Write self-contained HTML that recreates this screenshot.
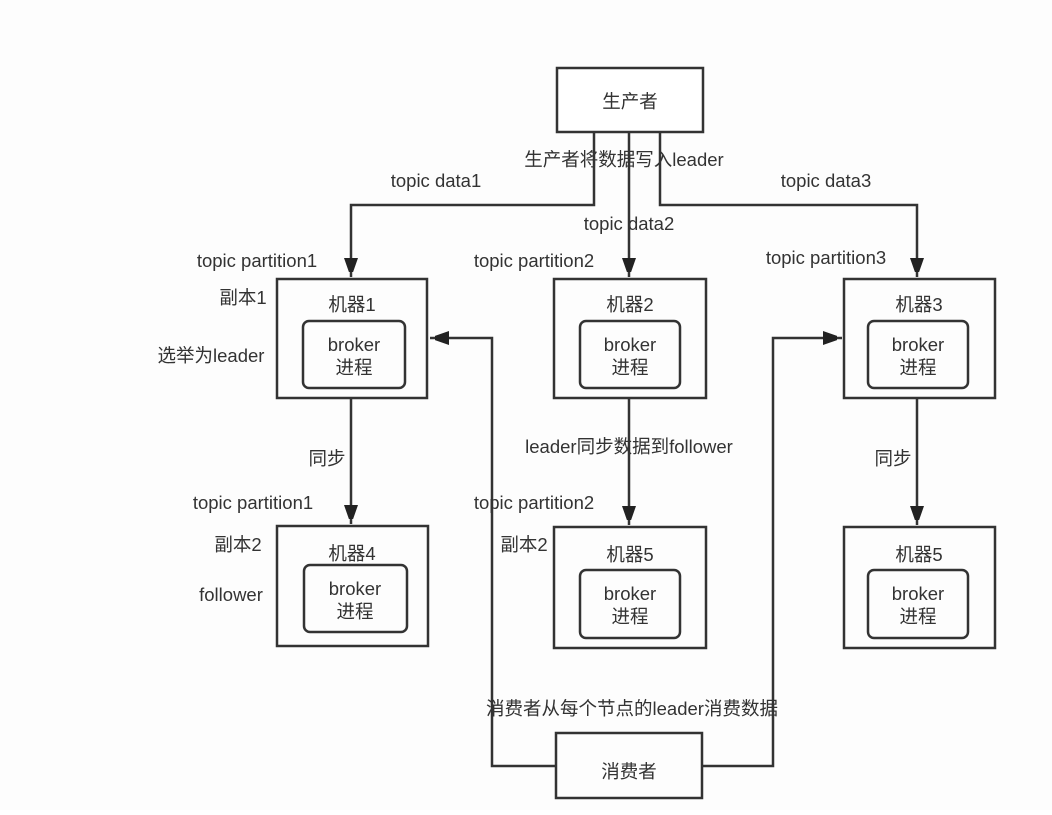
<!DOCTYPE html>
<html><head><meta charset="utf-8"><style>
html,body{margin:0;padding:0;background:#fff;}
svg text{font-family:"Liberation Sans","Noto Sans CJK SC",sans-serif;font-size:18.5px;fill:#333;}
</style></head><body>
<svg width="1052" height="810" viewBox="0 0 1052 810" xmlns="http://www.w3.org/2000/svg">
<rect width="1052" height="810" fill="#fdfdfd"/>
<defs><marker id="a" markerWidth="14" markerHeight="20" refX="19" refY="7" orient="auto" markerUnits="userSpaceOnUse"><path d="M0,0 L20,7 L0,14 Z" fill="#222"/></marker></defs>
<g fill="none" stroke="#333" stroke-width="2.5">
<rect x="557" y="68" width="146" height="64" fill="#fff"/>
<rect x="277" y="279" width="150" height="119"/>
<rect x="303" y="321" width="102" height="67" rx="6"/>
<rect x="554" y="279" width="152" height="119"/>
<rect x="580" y="321" width="100" height="67" rx="6"/>
<rect x="844" y="279" width="151" height="119"/>
<rect x="868" y="321" width="100" height="67" rx="6"/>
<rect x="277" y="526" width="151" height="120"/>
<rect x="304" y="565" width="103" height="67" rx="6"/>
<rect x="554" y="527" width="152" height="121"/>
<rect x="580" y="570" width="100" height="68" rx="6"/>
<rect x="844" y="527" width="151" height="121"/>
<rect x="868" y="570" width="100" height="68" rx="6"/>
<rect x="556" y="733" width="146" height="65"/>
<path d="M594,132 V205 H351 V277" marker-end="url(#a)"/>
<path d="M629,132 V277" marker-end="url(#a)"/>
<path d="M660,132 V205 H917 V277" marker-end="url(#a)"/>
<path d="M351,398 V524" marker-end="url(#a)"/>
<path d="M629,398 V525" marker-end="url(#a)"/>
<path d="M917,398 V525" marker-end="url(#a)"/>
<path d="M556,766 H492 V338 H430" marker-end="url(#a)"/>
<path d="M702,766 H773 V338 H842" marker-end="url(#a)"/>
</g>
<g text-anchor="middle">
<text x="630" y="108">生产者</text>
<text x="352" y="311">机器1</text>
<text x="354" y="351">broker</text><text x="354" y="374">进程</text>
<text x="630" y="311">机器2</text>
<text x="630" y="351">broker</text><text x="630" y="374">进程</text>
<text x="919" y="311">机器3</text>
<text x="918" y="351">broker</text><text x="918" y="374">进程</text>
<text x="352" y="560">机器4</text>
<text x="355" y="595">broker</text><text x="355" y="618">进程</text>
<text x="630" y="561">机器5</text>
<text x="630" y="600">broker</text><text x="630" y="623">进程</text>
<text x="919" y="561">机器5</text>
<text x="918" y="600">broker</text><text x="918" y="623">进程</text>
<text x="629" y="778">消费者</text>
<text x="624" y="166">生产者将数据写入leader</text>
<text x="436" y="187">topic data1</text>
<text x="629" y="230">topic data2</text>
<text x="826" y="187">topic data3</text>
<text x="257" y="267">topic partition1</text>
<text x="534" y="267">topic partition2</text>
<text x="826" y="264">topic partition3</text>
<text x="243" y="304">副本1</text>
<text x="211" y="362">选举为leader</text>
<text x="327" y="465">同步</text>
<text x="629" y="453">leader同步数据到follower</text>
<text x="893" y="465">同步</text>
<text x="253" y="509">topic partition1</text>
<text x="534" y="509">topic partition2</text>
<text x="238" y="551">副本2</text>
<text x="231" y="601">follower</text>
<text x="524" y="551">副本2</text>
<text x="632" y="715">消费者从每个节点的leader消费数据</text>
</g>
</svg>
</body></html>
